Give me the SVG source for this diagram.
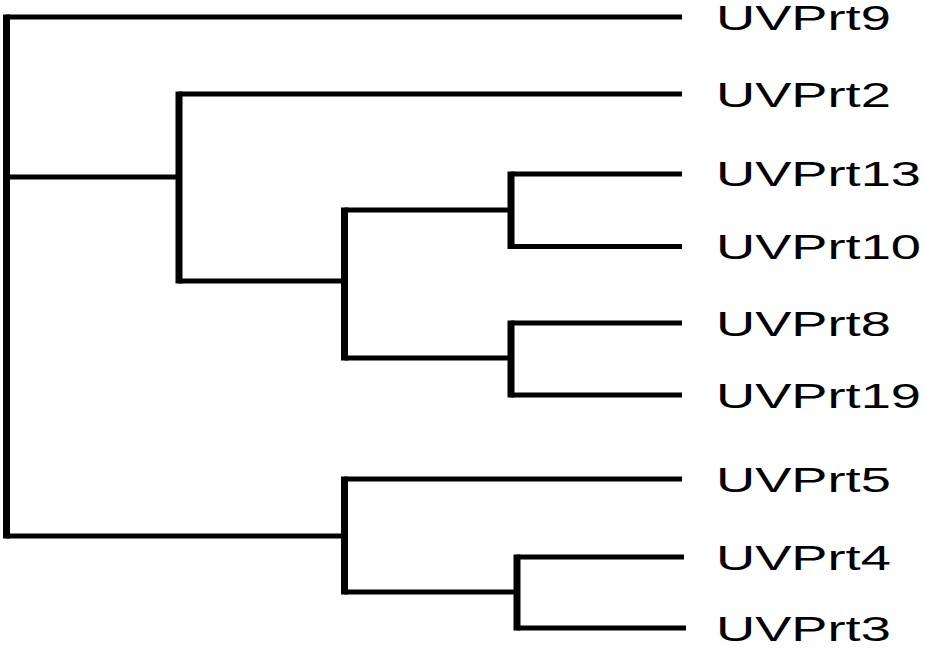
<svg xmlns="http://www.w3.org/2000/svg" width="925" height="649" viewBox="0 0 925 649">
  <style>
    .h { stroke: #000; stroke-width: 5; fill: none; }
    .v { stroke: #000; stroke-width: 7; fill: none; }
    .lbl { font-family: "Liberation Sans", Arial, sans-serif; font-size: 35px; fill: #000; }
  </style>
  <rect width="925" height="649" fill="#fff"/>
  <g id="connectors">
    <!-- root -->
    <line class="v" x1="6.5" y1="14.5" x2="6.5" y2="538.5"/>
    <line class="h" x1="6.5" y1="17" x2="682" y2="17"/>
    <line class="h" x1="6.5" y1="177" x2="179" y2="177"/>
    <line class="h" x1="6.5" y1="536" x2="344.5" y2="536"/>
    <!-- clade with UVPrt2 -->
    <line class="v" x1="179" y1="91.5" x2="179" y2="283.5"/>
    <line class="h" x1="179" y1="94" x2="682" y2="94"/>
    <line class="h" x1="179" y1="281" x2="344.5" y2="281"/>
    <line class="v" x1="344.5" y1="207.5" x2="344.5" y2="360.5"/>
    <line class="h" x1="344.5" y1="210" x2="511" y2="210"/>
    <line class="h" x1="344.5" y1="358" x2="511" y2="358"/>
    <line class="v" x1="511" y1="171.5" x2="511" y2="249"/>
    <line class="h" x1="511" y1="174" x2="682" y2="174"/>
    <line class="h" x1="511" y1="246.5" x2="682" y2="246.5"/>
    <line class="v" x1="511" y1="320.5" x2="511" y2="397.5"/>
    <line class="h" x1="511" y1="323" x2="682" y2="323"/>
    <line class="h" x1="511" y1="395" x2="682" y2="395"/>
    <!-- clade with UVPrt5 -->
    <line class="v" x1="344.5" y1="476.5" x2="344.5" y2="594.5"/>
    <line class="h" x1="344.5" y1="479" x2="682" y2="479"/>
    <line class="h" x1="344.5" y1="592" x2="517" y2="592"/>
    <line class="v" x1="517" y1="554.5" x2="517" y2="630.5"/>
    <line class="h" x1="517" y1="557" x2="684" y2="557"/>
    <line class="h" x1="517" y1="628" x2="686" y2="628"/>
  </g>
  <g id="leaf-UVPrt9"><text class="lbl" transform="translate(716,29.5) scale(1.55,1)">UVPrt9</text></g>
  <g id="leaf-UVPrt2"><text class="lbl" transform="translate(716,106.5) scale(1.55,1)">UVPrt2</text></g>
  <g id="leaf-UVPrt13"><text class="lbl" transform="translate(716,186) scale(1.55,1)">UVPrt13</text></g>
  <g id="leaf-UVPrt10"><text class="lbl" transform="translate(716,259) scale(1.55,1)">UVPrt10</text></g>
  <g id="leaf-UVPrt8"><text class="lbl" transform="translate(716,335.5) scale(1.55,1)">UVPrt8</text></g>
  <g id="leaf-UVPrt19"><text class="lbl" transform="translate(716,407.5) scale(1.55,1)">UVPrt19</text></g>
  <g id="leaf-UVPrt5"><text class="lbl" transform="translate(716,491.5) scale(1.55,1)">UVPrt5</text></g>
  <g id="leaf-UVPrt4"><text class="lbl" transform="translate(716,569.5) scale(1.55,1)">UVPrt4</text></g>
  <g id="leaf-UVPrt3"><text class="lbl" transform="translate(716,640.5) scale(1.55,1)">UVPrt3</text></g>
</svg>
